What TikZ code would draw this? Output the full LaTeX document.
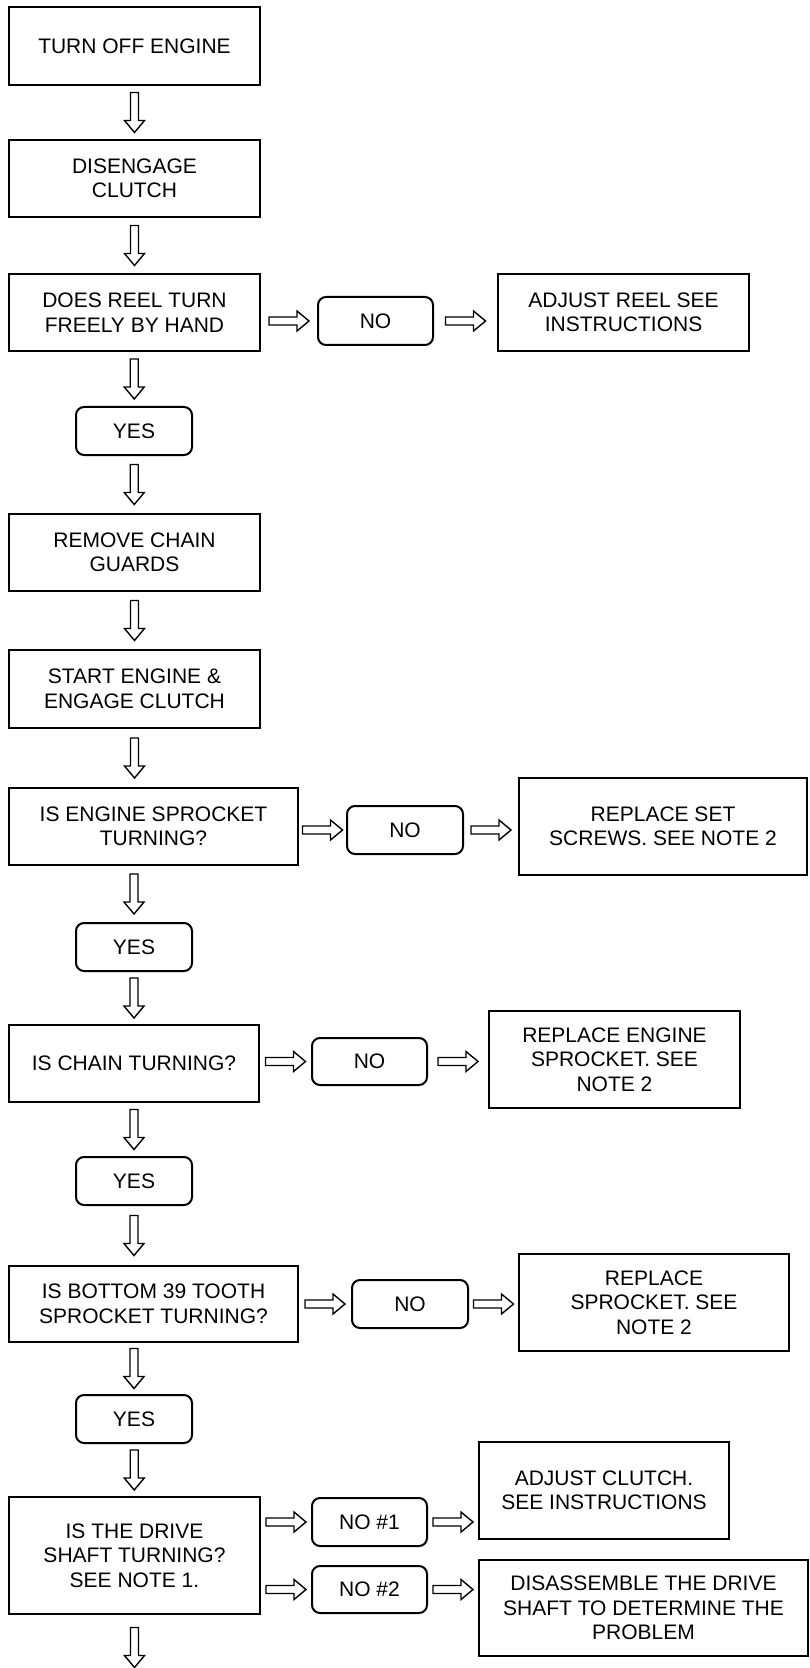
\documentclass[tikz,border=0pt]{standalone}
\usepackage{fontspec}
\setmainfont{Liberation Sans}
\usetikzlibrary{calc}
\begin{document}
\begin{tikzpicture}[x=0.5pt,y=-0.5pt,
wh/.style 2 args={minimum width=#1*0.5pt,minimum height=#2*0.5pt},
stepbox/.style={draw,line width=1pt,inner sep=0pt,align=center,font=\fontsize{10.5}{12.25}\selectfont},
answer/.style={stepbox,rounded corners=4pt},
darrow/.style={draw,line width=0.7pt,fill=white,to path={($(\tikztostart)!0.5!(\tikztotarget)$) ++(-4,-20) --++(0,28) --++(-6,0) --++(10,12) --++(10,-12) --++(-6,0) --++(0,-28) -- cycle}},
rarrow/.style={draw,line width=0.7pt,fill=white,to path={($(\tikztostart)!0.5!(\tikztotarget)$) ++(-20,-4) --++(28,0) --++(0,-6) --++(12,10) --++(-12,10) --++(0,-6) --++(-28,0) -- cycle}}]
\useasboundingbox (0,0) rectangle (809,1668);
\node[stepbox,wh={251}{78}] (off) at (134.5,46) {TURN OFF ENGINE};
\node[stepbox,wh={251}{77}] (clutch) at (134.5,178.5) {DISENGAGE\\CLUTCH};
\node[stepbox,wh={251}{77}] (reel) at (134.5,312.5) {DOES REEL TURN\\FREELY BY HAND};
\node[answer,wh={115}{48}] (reelno) at (375.5,321) {NO};
\node[stepbox,wh={251}{77}] (reelfix) at (623.5,312.5) {ADJUST REEL SEE\\INSTRUCTIONS};
\node[answer,wh={116}{48}] (reelyes) at (134,431) {YES};
\node[stepbox,wh={251}{77}] (guards) at (134.5,552.5) {REMOVE CHAIN\\GUARDS};
\node[stepbox,wh={251}{78}] (start) at (134.5,689) {START ENGINE \&\\ENGAGE CLUTCH};
\node[stepbox,wh={289}{77}] (engine) at (153.5,826.5) {IS ENGINE SPROCKET\\TURNING?};
\node[answer,wh={116}{48}] (engineno) at (405,830) {NO};
\node[stepbox,wh={288}{97}] (enginefix) at (663,826.5) {REPLACE SET\\SCREWS. SEE NOTE 2};
\node[answer,wh={116}{48}] (engineyes) at (134,947) {YES};
\node[stepbox,wh={250}{77}] (chain) at (134,1063.5) {IS CHAIN TURNING?};
\node[answer,wh={115}{47}] (chainno) at (369.5,1061.5) {NO};
\node[stepbox,wh={251}{97}] (chainfix) at (614.5,1059.5) {REPLACE ENGINE\\SPROCKET. SEE\\NOTE 2};
\node[answer,wh={116}{48}] (chainyes) at (134,1181) {YES};
\node[stepbox,wh={289}{76}] (tooth) at (153.5,1304) {IS BOTTOM 39 TOOTH\\SPROCKET TURNING?};
\node[answer,wh={116}{48}] (toothno) at (410,1304) {NO};
\node[stepbox,wh={270}{97}] (toothfix) at (654,1302.5) {REPLACE\\SPROCKET. SEE\\NOTE 2};
\node[answer,wh={116}{48}] (toothyes) at (134,1419) {YES};
\node[stepbox,wh={251}{117}] (shaft) at (134.5,1555.5) {IS THE DRIVE\\SHAFT TURNING?\\SEE NOTE 1.};
\node[answer,wh={115}{48}] (shaftnoa) at (369.5,1522) {NO \#1};
\node[answer,wh={115}{47}] (shaftnob) at (369.5,1589.5) {NO \#2};
\node[stepbox,wh={250}{97}] (shaftfixa) at (604,1490.5) {ADJUST CLUTCH.\\SEE INSTRUCTIONS};
\node[stepbox,wh={329}{96}] (shaftfixb) at (643.5,1608) {DISASSEMBLE THE DRIVE\\SHAFT TO DETERMINE THE\\PROBLEM};
\coordinate (more) at (134.5,1680);
\draw[darrow] (off.south) to (clutch.north);
\draw[darrow] (clutch.south) to (reel.north);
\draw[darrow] (reel.south) to (reelyes.north);
\draw[darrow] (reelyes.south) to (guards.north);
\draw[darrow] (guards.south) to (start.north);
\draw[darrow] (start.south) to (start.south |- engine.north);
\draw[darrow] (engine.south -| engineyes.north) to (engineyes.north);
\draw[darrow] (engineyes.south) to (chain.north);
\draw[darrow] (chain.south) to (chainyes.north);
\draw[darrow] (chainyes.south) to (chainyes.south |- tooth.north);
\draw[darrow] (tooth.south -| toothyes.north) to (toothyes.north);
\draw[darrow] (toothyes.south) to (shaft.north);
\draw[darrow] (shaft.south) to (more);
\draw[rarrow] (reel.east |- reelno.west) to (reelno.west);
\draw[rarrow] (reelno.east) to (reelno.east -| reelfix.west);
\draw[rarrow] (engine.east |- engineno.west) to (engineno.west);
\draw[rarrow] (engineno.east) to (engineno.east -| enginefix.west);
\draw[rarrow] (chain.east |- chainno.west) to (chainno.west);
\draw[rarrow] (chainno.east) to (chainno.east -| chainfix.west);
\draw[rarrow] (tooth.east |- toothno.west) to (toothno.west);
\draw[rarrow] (toothno.east) to (toothno.east -| toothfix.west);
\draw[rarrow] (shaft.east |- shaftnoa.west) to (shaftnoa.west);
\draw[rarrow] (shaftnoa.east) to (shaftnoa.east -| shaftfixa.west);
\draw[rarrow] (shaft.east |- shaftnob.west) to (shaftnob.west);
\draw[rarrow] (shaftnob.east) to (shaftnob.east -| shaftfixb.west);
\end{tikzpicture}
\end{document}
